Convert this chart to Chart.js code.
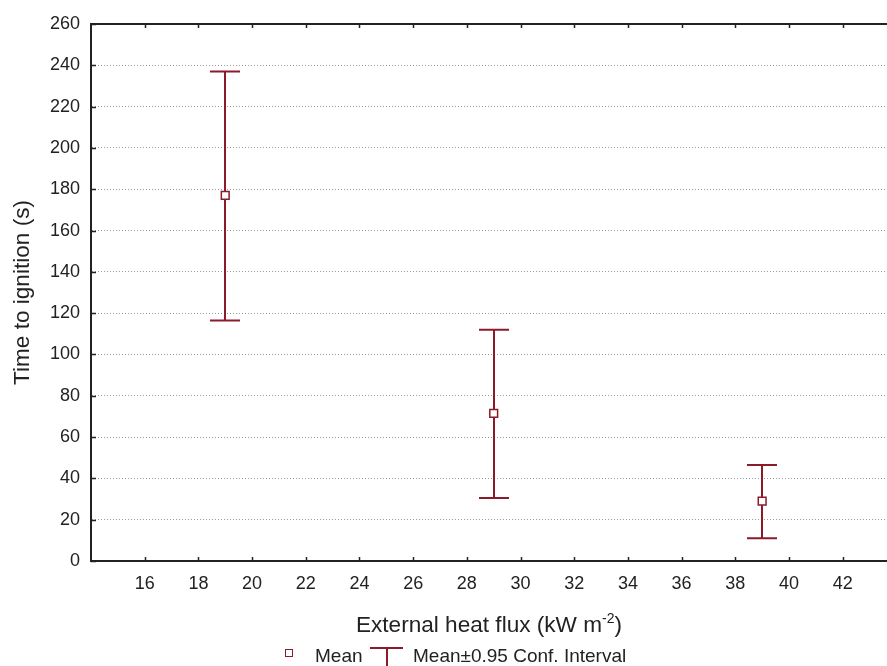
<!DOCTYPE html>
<html>
<head>
<meta charset="utf-8">
<script src="https://cdn.jsdelivr.net/npm/chart.js@4.4.1/dist/chart.umd.min.js"></script>
<style>
  html, body { margin: 0; padding: 0; background: #fff; }
  #wrap { position: relative; width: 887px; height: 666px; overflow: hidden;
          font-family: "Liberation Sans", Arial, sans-serif; color: #222; }
  #chart { position: absolute; left: 0; top: 0; }
  #xtitle { position: absolute; left: 91px; width: 796px; top: 614px; text-align: center;
            font-size: 22.6px; line-height: 22px; white-space: nowrap; }
  #xtitle sup { font-size: 14px; position: relative; top: -9px; vertical-align: baseline; line-height: 0; }
  .lg { position: absolute; font-size: 19px; line-height: 19px; top: 646px; white-space: nowrap; }
  #lg-square { position: absolute; left: 285px; top: 649px; width: 6px; height: 6px;
               border: 1.5px solid #8b1a2a; background: #fff; }
  #lg-cap { position: absolute; left: 370px; top: 647px; width: 33px; height: 2px; background: #8b1a2a; }
  #lg-stem { position: absolute; left: 386px; top: 647px; width: 2px; height: 30px; background: #8b1a2a; }
</style>
</head>
<body>
<div id="wrap">
  <canvas id="chart" width="894" height="666"></canvas>
  <div id="xtitle">External heat flux (kW m<sup>-2</sup>)</div>
  <span id="lg-square"></span>
  <span class="lg" style="left:315px">Mean</span>
  <span id="lg-cap"></span><span id="lg-stem"></span>
  <span class="lg" style="left:413px">Mean±0.95 Conf. Interval</span>
</div>
<script>
// Datos
const flux = [19, 29, 39];
const meanTime = [177, 71.5, 29];
const lowerCI = [116.5, 30.5, 11];
const upperCI = [237, 112, 46.5];
const xTickValues = [16, 18, 20, 22, 24, 26, 28, 30, 32, 34, 36, 38, 40, 42];

const barColor = '#8b1a2a';
const axisColor = '#222';

// Barras de error, marco superior y marcas interiores
const errorBarPlugin = {
    id: 'errorBars',
    beforeDatasetsDraw(chart) {
        const { ctx, chartArea, scales } = chart;
        const x = scales.x, y = scales.y;
        ctx.save();

        // marco superior
        ctx.strokeStyle = axisColor;
        ctx.lineWidth = 2;
        ctx.beginPath();
        ctx.moveTo(chartArea.left - 1, chartArea.top);
        ctx.lineTo(chartArea.right, chartArea.top);
        ctx.stroke();

        // marcas hacia dentro
        ctx.lineWidth = 1.5;
        ctx.beginPath();
        xTickValues.forEach(v => {
            const px = Math.round(x.getPixelForValue(v)) + 0.5;
            ctx.moveTo(px, chartArea.bottom);
            ctx.lineTo(px, chartArea.bottom - 4);
            ctx.moveTo(px, chartArea.top);
            ctx.lineTo(px, chartArea.top + 4);
        });
        y.ticks.forEach(t => {
            const py = Math.round(y.getPixelForValue(t.value)) + 0.5;
            ctx.moveTo(chartArea.left, py);
            ctx.lineTo(chartArea.left + 5, py);
        });
        ctx.stroke();

        // barras de error
        ctx.strokeStyle = barColor;
        ctx.lineWidth = 2;
        flux.forEach((f, i) => {
            const px = Math.round(x.getPixelForValue(f));
            const pLo = y.getPixelForValue(lowerCI[i]);
            const pHi = y.getPixelForValue(upperCI[i]);
            ctx.beginPath();
            ctx.moveTo(px, pLo);
            ctx.lineTo(px, pHi);
            ctx.moveTo(px - 15, pHi);
            ctx.lineTo(px + 15, pHi);
            ctx.moveTo(px - 15, pLo);
            ctx.lineTo(px + 15, pLo);
            ctx.stroke();
        });
        ctx.restore();
    }
};

const tickFont = { family: '"Liberation Sans", Arial, sans-serif', size: 18 };

new Chart(document.getElementById('chart'), {
    type: 'scatter',
    data: {
        datasets: [{
            label: 'Mean',
            data: flux.map((f, i) => ({ x: f, y: meanTime[i] })),
            pointStyle: 'rect',
            pointRadius: 5.5,
            pointBorderWidth: 1.5,
            pointBorderColor: barColor,
            pointBackgroundColor: '#fff'
        }]
    },
    options: {
        responsive: false,
        animation: false,
        events: [],
        layout: { padding: { top: 24, right: 0, left: 0, bottom: 0 } },
        plugins: {
            legend: { display: false },
            tooltip: { enabled: false }
        },
        scales: {
            x: {
                type: 'linear',
                min: 14,
                max: 43.65,
                afterBuildTicks: scale => {
                    scale.ticks = xTickValues.map(v => ({ value: v }));
                },
                afterFit: scale => { scale.height = 105; },
                grid: { display: false, drawTicks: false },
                border: { display: true, color: axisColor, width: 2 },
                ticks: { color: '#222', font: tickFont, padding: 12, maxRotation: 0, autoSkip: false }
            },
            y: {
                min: 0,
                max: 260,
                afterFit: scale => { scale.width = 91; },
                grid: { color: '#9a9a9a', lineWidth: 1, drawTicks: false },
                border: { display: true, color: axisColor, width: 2, dash: [1, 2] },
                ticks: { stepSize: 20, color: '#222', font: tickFont, padding: 11 },
                title: {
                    display: true,
                    text: 'Time to ignition (s)',
                    color: '#222',
                    font: { family: '"Liberation Sans", Arial, sans-serif', size: 22.6 },
                    padding: { top: 9, bottom: 0 }
                }
            }
        }
    },
    plugins: [errorBarPlugin]
});
</script>
</body>
</html>
